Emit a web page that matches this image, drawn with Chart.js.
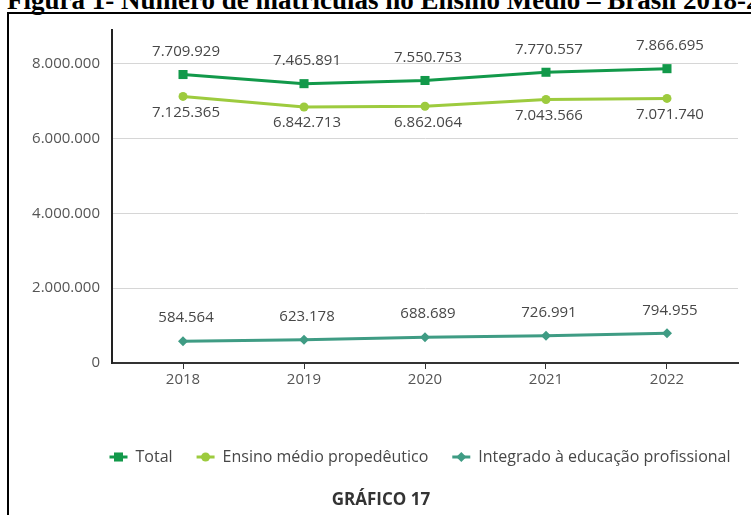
<!DOCTYPE html>
<html lang="pt-BR">
<head>
<meta charset="utf-8">
<title>Matrículas no Ensino Médio</title>
<script src="https://cdn.jsdelivr.net/npm/chart.js@4.4.1/dist/chart.umd.min.js"></script>
<style>
  html, body { margin: 0; padding: 0; background: #fff; overflow: hidden; }
  #wrap { position: relative; width: 751px; height: 515px; overflow: hidden; }
  #titulo {
    position: absolute; left: 7px; top: -12.6px;
    font: bold 27px/27px "Liberation Serif", "Times New Roman", serif;
    color: #000; white-space: nowrap;
  }
  #moldura {
    position: absolute; left: 7px; top: 12px; width: 800px; height: 600px;
    border: 2px solid #000; pointer-events: none;
  }
  canvas { position: absolute; left: 0; top: 0; }
</style>
</head>
<body>
<div id="wrap">
  <div id="titulo">Figura 1- Número de matrículas no Ensino Médio – Brasil 2018-2022</div>
  <div id="moldura"></div>
  <canvas id="grafico" width="751" height="515"></canvas>
</div>
<script>
// matrículas por ano
const anos = [2018, 2019, 2020, 2021, 2022];
const total = [7709929, 7465891, 7550753, 7770557, 7866695];
const propedeutico = [7125365, 6842713, 6862064, 7043566, 7071740];
const integrado = [584564, 623178, 688689, 726991, 794955];
const ticksY = [0, 2000000, 4000000, 6000000, 8000000];
const nomes = ['Total', 'Ensino médio propedêutico', 'Integrado à educação profissional'];

const cores = ['#12994a', '#9dcb3e', '#3f9c84'];
const estilos = ['rect', 'circle', 'rectRot'];
const raios = [6.4, 4.5, 5];
const desloc = [-23, 16, -23]; // rótulo acima / abaixo do ponto
const FONTE = '"Open Sans", "Noto Sans", sans-serif';

function fmt(v) {
  return String(v).replace(/\B(?=(\d{3})+(?!\d))/g, '.');
}

function pontos(valores) {
  return anos.map((a, i) => ({ x: a, y: valores[i] }));
}

// rótulos de valor em cada ponto
const rotulos = {
  id: 'rotulos',
  afterDatasetsDraw(chart) {
    const ctx = chart.ctx;
    ctx.save();
    ctx.font = '15px ' + FONTE;
    ctx.fillStyle = '#474747';
    ctx.textAlign = 'center';
    ctx.textBaseline = 'middle';
    chart.data.datasets.forEach((ds, i) => {
      chart.getDatasetMeta(i).data.forEach((el, j) => {
        ctx.fillText(fmt(ds.data[j].y), el.x + 3, el.y + desloc[i]);
      });
    });
    ctx.restore();
  }
};

function marcador(ctx, estilo, x, y, r) {
  ctx.beginPath();
  if (estilo === 'rect') {
    const s = r * Math.SQRT1_2;
    ctx.rect(x - s, y - s, 2 * s, 2 * s);
  } else if (estilo === 'circle') {
    ctx.arc(x, y, r, 0, Math.PI * 2);
  } else {
    ctx.moveTo(x, y - r); ctx.lineTo(x + r, y); ctx.lineTo(x, y + r); ctx.lineTo(x - r, y);
    ctx.closePath();
  }
  ctx.fill();
}

// legenda e identificação do gráfico
const legenda = {
  id: 'legenda',
  afterDraw(chart) {
    const ctx = chart.ctx;
    ctx.save();
    ctx.font = '16px ' + FONTE;
    ctx.textBaseline = 'middle';
    const larg = nomes.map(n => ctx.measureText(n).width);
    const linha = 18, gap = 8, entre = 24;
    const totalW = larg.reduce((s, w) => s + linha + gap + w, 0) + entre * (nomes.length - 1);
    let x = 420 - totalW / 2;
    const y = 457;
    nomes.forEach((n, i) => {
      ctx.strokeStyle = cores[i];
      ctx.fillStyle = cores[i];
      ctx.lineWidth = 3;
      ctx.beginPath();
      ctx.moveTo(x, y); ctx.lineTo(x + linha, y);
      ctx.stroke();
      marcador(ctx, estilos[i], x + linha / 2, y, raios[i]);
      x += linha + gap;
      ctx.fillStyle = '#474747';
      ctx.textAlign = 'left';
      ctx.fillText(n, x, y);
      x += larg[i] + entre;
    });
    ctx.font = 'bold 17px ' + FONTE;
    ctx.fillStyle = '#333';
    ctx.textAlign = 'center';
    ctx.fillText('GRÁFICO 17', 381, 500);
    ctx.restore();
  }
};

const ctx = document.getElementById('grafico');
new Chart(ctx, {
  type: 'line',
  data: {
    datasets: [total, propedeutico, integrado].map((vals, i) => ({
      label: nomes[i],
      data: pontos(vals),
      borderColor: cores[i],
      backgroundColor: cores[i],
      borderWidth: 3,
      pointStyle: estilos[i],
      pointRadius: raios[i],
      pointBorderWidth: 0,
      tension: 0
    }))
  },
  options: {
    responsive: false,
    animation: false,
    layout: { padding: { left: 0, right: 13, top: 30, bottom: 122 } },
    plugins: {
      legend: { display: false },
      tooltip: { enabled: false }
    },
    scales: {
      x: {
        type: 'linear',
        min: 2017.413,
        max: 2022.587,
        afterBuildTicks: s => { s.ticks = anos.map(v => ({ value: v })); },
        afterFit: s => { s.height = 30; },
        ticks: {
          callback: v => String(v),
          color: '#555',
          font: { family: FONTE, size: 15 },
          padding: 2
        },
        grid: { drawOnChartArea: false, drawTicks: true, tickLength: 6, color: '#333', lineWidth: 1 },
        border: { color: '#333', width: 2 }
      },
      y: {
        min: 0,
        max: 8900000,
        afterBuildTicks: s => { s.ticks = ticksY.map(v => ({ value: v })); },
        afterFit: s => { s.width = 112; },
        ticks: {
          callback: v => fmt(v),
          color: '#555',
          font: { family: FONTE, size: 15 },
          padding: 12
        },
        grid: { color: '#d6d6d6', lineWidth: 1, drawTicks: false },
        border: { color: '#222', width: 2 }
      }
    }
  },
  plugins: [rotulos, legenda]
});
</script>
</body>
</html>
